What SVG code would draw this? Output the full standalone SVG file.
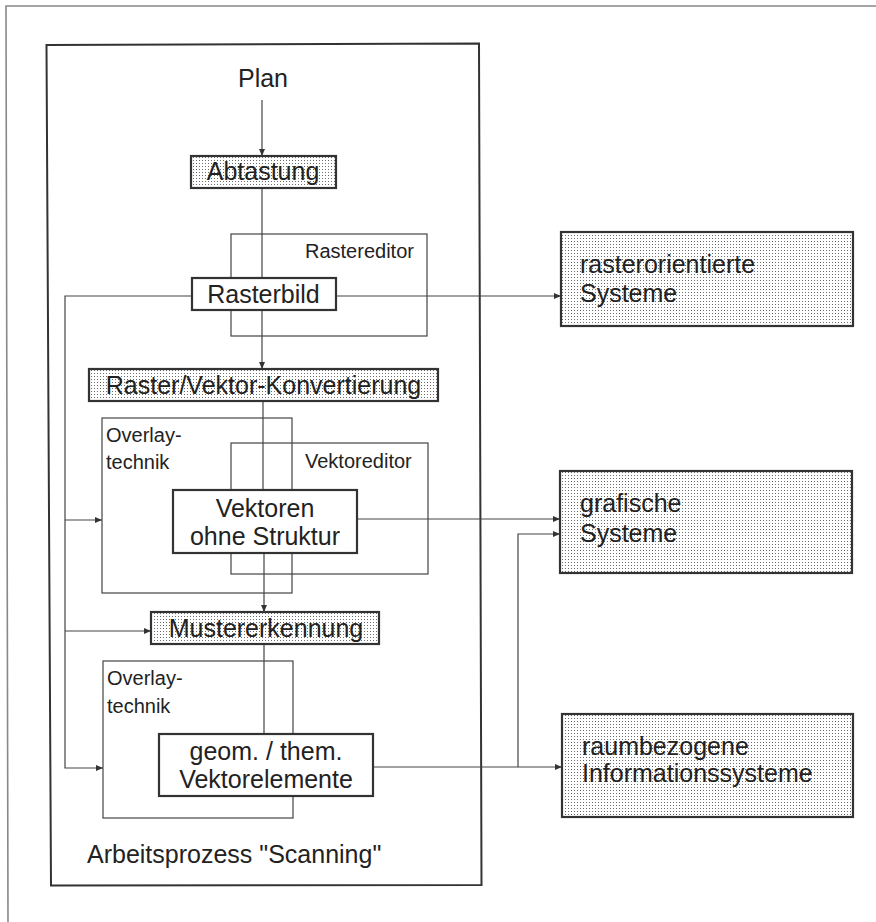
<svg xmlns="http://www.w3.org/2000/svg" width="876" height="922" viewBox="0 0 876 922">
<defs>
<pattern id="dots" width="3" height="3" patternUnits="userSpaceOnUse">
<rect width="3" height="3" fill="#fff"/>
<rect x="1" y="1" width="1" height="1" fill="#6a6a6a"/>
</pattern>
<marker id="arr" markerWidth="7" markerHeight="6" refX="7" refY="3" orient="auto" markerUnits="userSpaceOnUse">
<path d="M0,0 L7,3 L0,6 z" fill="#333"/>
</marker>
</defs>
<style>
text{font-family:"Liberation Sans",Arial,Helvetica,sans-serif;fill:#222}
.big{font-size:25px}
.small{font-size:20px}
.c{text-anchor:middle}
.shade{fill:url(#dots);stroke:#333;stroke-width:2.2}
.box{fill:#fff;stroke:#333;stroke-width:2.2}
.thin{fill:none;stroke:#444;stroke-width:1.2}
.conn{fill:none;stroke:#444;stroke-width:1.2}
</style>
<rect width="876" height="922" fill="#fff"/>
<path d="M8,922 L6,6 L876,6" fill="none" stroke="#888" stroke-width="1.6"/>
<path id="frame" d="M46.5,45 L479,43.5 L481.5,885 L51,885.5 Z" fill="none" stroke="#333" stroke-width="2"/>

<g id="containers">
<g id="rastereditor"><rect class="thin" x="231" y="234" width="196" height="102"/><text class="small" x="305" y="258">Rastereditor</text></g>
<g id="overlay1"><rect class="thin" x="102" y="418" width="190" height="175"/><text class="small" x="106" y="442">Overlay-</text><text class="small" x="106" y="469">technik</text></g>
<g id="vektoreditor"><rect class="thin" x="231" y="443" width="197" height="131"/><text class="small" x="305" y="468">Vektoreditor</text></g>
<g id="overlay2"><rect class="thin" x="103" y="661" width="190" height="157"/><text class="small" x="107" y="685">Overlay-</text><text class="small" x="107" y="713">technik</text></g>
</g>

<g id="connectors">
<path class="conn" d="M262,100 L262,156" marker-end="url(#arr)"/>
<path class="conn" d="M262,188 L262,278"/>
<path class="conn" d="M262,310 L262,369" marker-end="url(#arr)"/>
<path class="conn" d="M263,401 L263,490"/>
<path class="conn" d="M264,553 L264,612" marker-end="url(#arr)"/>
<path class="conn" d="M264,644 L264,734"/>
<path class="conn" d="M192,296 L65,296 L65,768 L103,768" marker-end="url(#arr)"/>
<path class="conn" d="M65,520 L102,520" marker-end="url(#arr)"/>
<path class="conn" d="M65,631 L151,631" marker-end="url(#arr)"/>
<path class="conn" d="M336,296 L561,296" marker-end="url(#arr)"/>
<path class="conn" d="M357,519 L560,519" marker-end="url(#arr)"/>
<path class="conn" d="M373,767 L562,767" marker-end="url(#arr)"/>
<path class="conn" d="M518,767 L518,534 L560,534" marker-end="url(#arr)"/>
</g>

<g id="plan"><text class="big c" x="263" y="87">Plan</text></g>
<g id="abtastung"><rect class="shade" x="191" y="156" width="145" height="32"/><text class="big c" x="263" y="180">Abtastung</text></g>
<g id="rasterbild"><rect class="box" x="192" y="278" width="144" height="32"/><text class="big c" x="263.5" y="303">Rasterbild</text></g>
<g id="konvertierung"><rect class="shade" x="89" y="369" width="349" height="32"/><text class="big c" x="263.5" y="394">Raster/Vektor-Konvertierung</text></g>
<g id="vektoren"><rect class="box" x="173" y="490" width="184" height="63"/><text class="big c" x="265" y="517">Vektoren</text><text class="big c" x="265" y="545">ohne Struktur</text></g>
<g id="mustererkennung"><rect class="shade" x="151" y="612" width="228" height="32"/><text class="big c" x="266" y="637">Mustererkennung</text></g>
<g id="geom"><rect class="box" x="159" y="734" width="214" height="62"/><text class="big c" x="266" y="760">geom. / them.</text><text class="big c" x="266" y="788">Vektorelemente</text></g>
<g id="caption"><text class="big" x="87" y="863">Arbeitsprozess "Scanning"</text></g>

<g id="rastersys"><rect class="shade" x="561" y="232" width="292" height="94"/><text class="big" x="580" y="273">rasterorientierte</text><text class="big" x="580" y="302">Systeme</text></g>
<g id="grafische"><rect class="shade" x="560" y="471" width="292" height="102"/><text class="big" x="580" y="512">grafische</text><text class="big" x="580" y="542">Systeme</text></g>
<g id="raumbezogene"><rect class="shade" x="562" y="714" width="291" height="103"/><text class="big" x="582" y="755">raumbezogene</text><text class="big" x="582" y="782">Informationssysteme</text></g>
</svg>
